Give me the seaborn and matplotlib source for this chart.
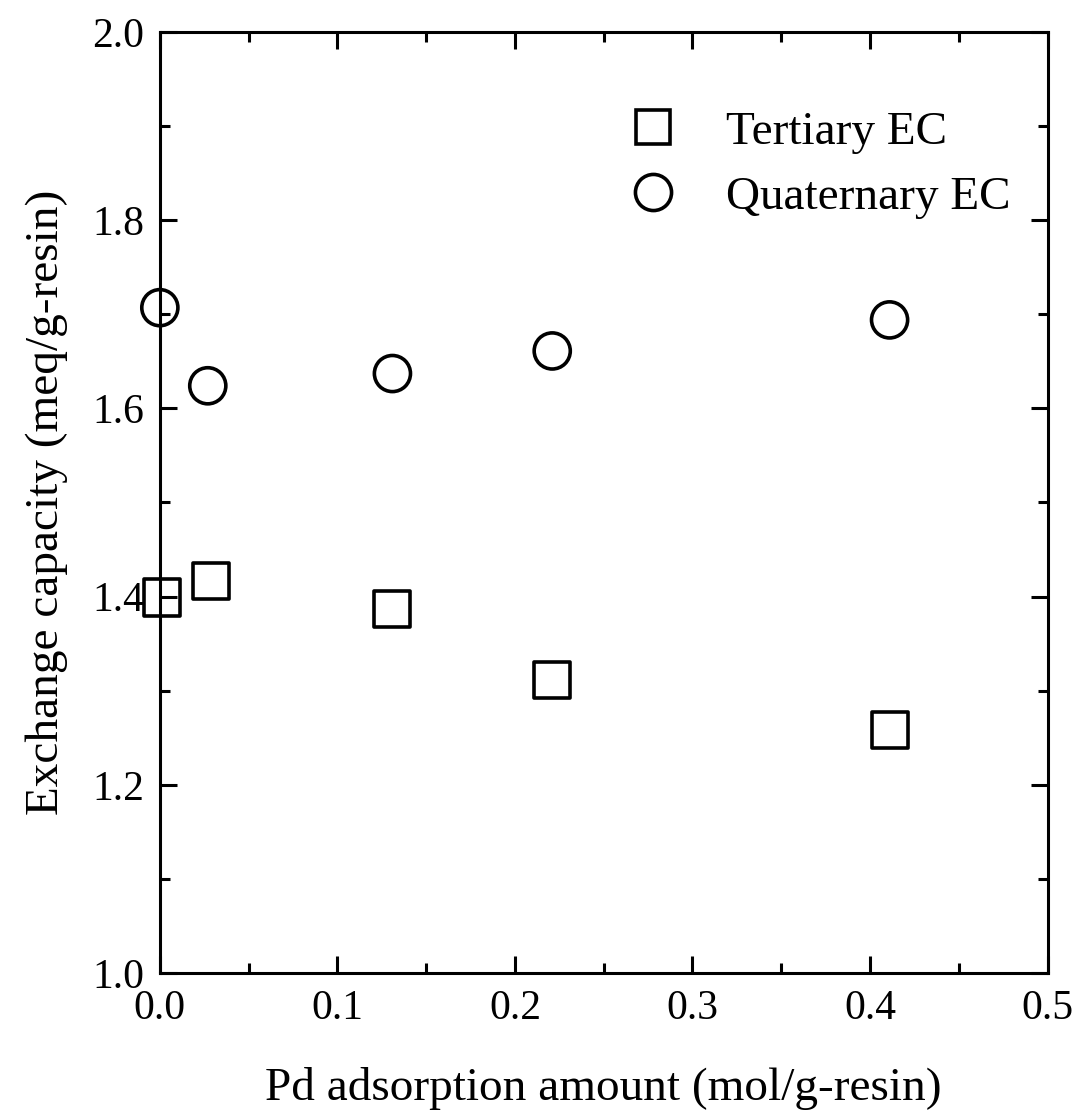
import matplotlib
matplotlib.use("Agg")
import matplotlib.pyplot as plt
import seaborn as sns
import pandas as pd
from matplotlib.ticker import MultipleLocator, FormatStrFormatter
from matplotlib.lines import Line2D

pd_amount_tert = [0.001, 0.029, 0.131, 0.221, 0.411]
ec_tert = [1.399, 1.417, 1.387, 1.311, 1.258]
pd_amount_quat = [0.0, 0.027, 0.131, 0.221, 0.411]
ec_quat = [1.707, 1.624, 1.637, 1.661, 1.694]
series_names = ["Tertiary EC", "Quaternary EC"]

df = pd.DataFrame({
    "x": pd_amount_tert + pd_amount_quat,
    "y": ec_tert + ec_quat,
    "series": [series_names[0]] * len(ec_tert) + [series_names[1]] * len(ec_quat),
})

sns.set_theme(style="ticks")
plt.rcParams['font.family'] = ['Liberation Serif', 'DejaVu Serif']
for k in ['text.color', 'axes.labelcolor', 'xtick.color', 'ytick.color', 'axes.edgecolor']:
    plt.rcParams[k] = 'black'

fig = plt.figure(figsize=(10.8, 11.13), dpi=100)
ax = fig.add_axes([0.148, 0.1258, 0.822, 0.8455])

sns.scatterplot(data=df, x="x", y="y", style="series",
                markers={"Tertiary EC": "s", "Quaternary EC": "o"},
                s=26**2, facecolor="none", edgecolor="black", linewidth=2.6,
                ax=ax, legend=False, zorder=3, clip_on=False)

ax.set_xlim(0, 0.5)
ax.set_ylim(1.0, 2.0)
ax.xaxis.set_major_locator(MultipleLocator(0.1))
ax.xaxis.set_minor_locator(MultipleLocator(0.05))
ax.yaxis.set_major_locator(MultipleLocator(0.2))
ax.yaxis.set_minor_locator(MultipleLocator(0.1))
ax.xaxis.set_major_formatter(FormatStrFormatter('%.1f'))
ax.yaxis.set_major_formatter(FormatStrFormatter('%.1f'))
ax.tick_params(which='both', direction='in', top=True, right=True, width=2.2,
               colors='black', labelsize=30)
ax.tick_params(which='major', length=12)
ax.tick_params(which='minor', length=7)
ax.tick_params(axis='x', which='major', pad=12)
ax.tick_params(axis='y', which='major', pad=11)
for sp in ax.spines.values():
    sp.set_linewidth(2.2)
    sp.set_color('black')

ax.set_xlabel("Pd adsorption amount (mol/g-resin)", fontsize=34, labelpad=28)
ax.set_ylabel("Exchange capacity (meq/g-resin)", fontsize=34, labelpad=18)

handles = [Line2D([], [], marker='s', linestyle='none', markersize=25, markerfacecolor='none',
                  markeredgecolor='black', markeredgewidth=2.6),
           Line2D([], [], marker='o', linestyle='none', markersize=26, markerfacecolor='none',
                  markeredgecolor='black', markeredgewidth=2.6)]
ax.legend(handles, series_names, loc='upper left', bbox_to_anchor=(0.502, 0.9366),
          borderaxespad=0, frameon=False, fontsize=34, handletextpad=0.96,
          labelspacing=0.47, handlelength=1.2)

fig.savefig("out.png", dpi=100)
